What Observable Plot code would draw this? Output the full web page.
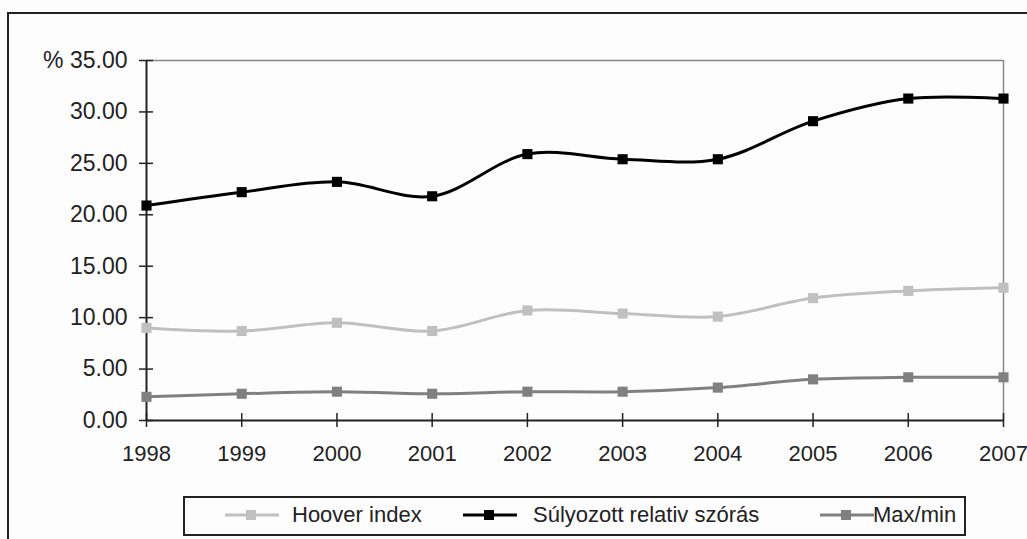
<!DOCTYPE html>
<html>
<head>
<meta charset="utf-8">
<script src="https://cdn.jsdelivr.net/npm/d3@7"></script>
<script src="https://cdn.jsdelivr.net/npm/@observablehq/plot@0.6"></script>
<style>
  html, body { margin: 0; padding: 0; background: #fdfdfd; overflow: hidden; }
  body { width: 1027px; height: 539px; position: relative; font-family: "Liberation Sans", Arial, sans-serif; color: #222; }
  #frame { position: absolute; left: 7px; top: 12px; width: 1040px; height: 560px; border: 2px solid #222; box-sizing: border-box; }
  #chart { position: absolute; left: 0; top: 0; }
  #legend { position: absolute; left: 183px; top: 496px; width: 783px; height: 40px; border: 2px solid #222; box-sizing: border-box; background: #fdfdfd; }
  .item { position: absolute; top: 0; height: 33px; display: flex; align-items: center; font-size: 22px; }
  .item svg { display: block; }
</style>
</head>
<body>
<div id="frame"></div>
<div id="chart"></div>
<div id="legend"></div>
<script>
const years = [1998, 1999, 2000, 2001, 2002, 2003, 2004, 2005, 2006, 2007];
const hoover = [9.0, 8.7, 9.5, 8.7, 10.7, 10.4, 10.1, 11.9, 12.6, 12.9];
const sulyozott = [20.9, 22.2, 23.2, 21.8, 25.9, 25.4, 25.4, 29.1, 31.3, 31.3];
const maxmin = [2.3, 2.6, 2.8, 2.6, 2.8, 2.8, 3.2, 4.0, 4.2, 4.2];
const seriesNames = ["Hoover index", "Súlyozott relativ szórás", "Max/min"];
const seriesColors = ["#c0c0c0", "#000000", "#808080"];
const yTicks = [0, 5, 10, 15, 20, 25, 30, 35];

const seriesValues = [hoover, sulyozott, maxmin];
const data = [];
seriesNames.forEach((name, i) => {
  years.forEach((yr, j) => data.push({series: name, year: yr, value: seriesValues[i][j]}));
});

const chart = Plot.plot({
  width: 1027,
  height: 480,
  marginLeft: 146,
  marginRight: 24,
  marginTop: 60,
  marginBottom: 60,
  style: {background: "transparent", fontFamily: "'Liberation Sans', Arial, sans-serif", fontSize: "22px", color: "#222"},
  x: {domain: [1998, 2007], ticks: years, label: null},
  y: {domain: [0, 35], ticks: yTicks, label: null},
  color: {domain: seriesNames, range: seriesColors},
  marks: [
    Plot.ruleY([35], {stroke: "#888", strokeWidth: 1.5}),
    Plot.ruleX([2007], {stroke: "#888", strokeWidth: 1.5}),
    Plot.ruleX([1998], {stroke: "#222", strokeWidth: 2}),
    Plot.ruleY([0], {stroke: "#222", strokeWidth: 2}),
    Plot.axisY({ticks: yTicks, tickSize: 14, dx: 7, tickPadding: 12, strokeWidth: 1.5, stroke: "#222",
      tickFormat: d => (d === 35 ? "% " : "") + d.toFixed(2), fill: "#222", fontSize: 23, label: null}),
    Plot.axisX({ticks: years, tickSize: 14, dy: -7, tickPadding: 18, strokeWidth: 1.5, stroke: "#222",
      tickFormat: d => String(d), fill: "#222", fontSize: 22, label: null}),
    Plot.line(data, {x: "year", y: "value", z: "series", stroke: "series", strokeWidth: 3, curve: "catmull-rom"}),
    Plot.dot(data, {x: "year", y: "value", fill: "series", symbol: "square", r: 5.7, stroke: "none"})
  ]
});
document.getElementById("chart").appendChild(chart);

// Legend
const legend = document.getElementById("legend");
const legendPos = [[40, 107], [278, 348], [635, 688]];
seriesNames.forEach((name, i) => {
  const sw = document.createElement("div");
  sw.className = "item";
  sw.style.left = legendPos[i][0] + "px";
  sw.innerHTML = `<svg width="54" height="14"><line x1="0" y1="7" x2="54" y2="7" stroke="${seriesColors[i]}" stroke-width="3"/><rect x="21" y="2" width="10" height="10" fill="${seriesColors[i]}"/></svg>`;
  legend.appendChild(sw);
  const tx = document.createElement("div");
  tx.className = "item";
  tx.style.left = legendPos[i][1] + "px";
  tx.textContent = name;
  legend.appendChild(tx);
});
</script>
</body>
</html>
